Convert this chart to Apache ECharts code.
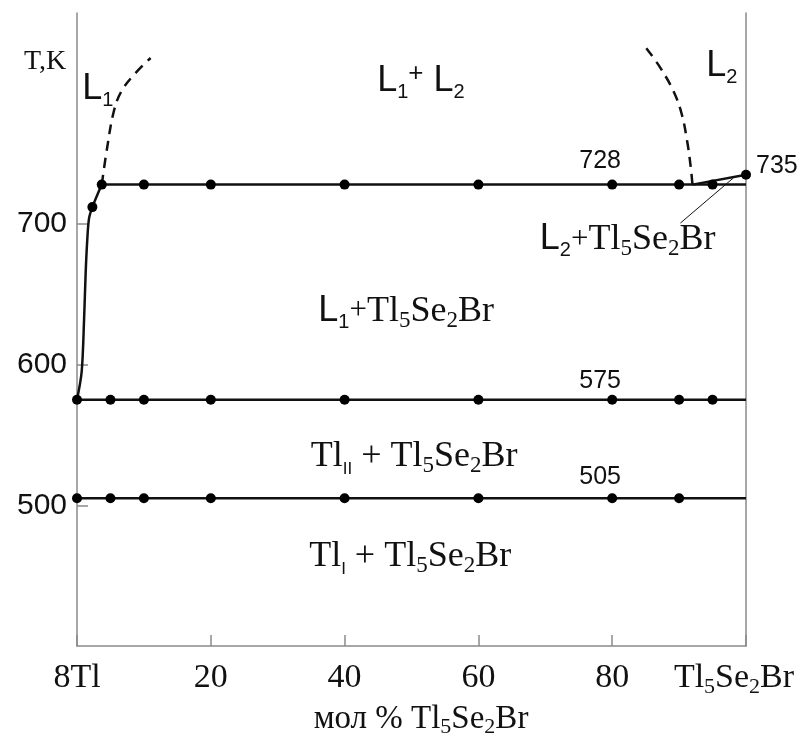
<!DOCTYPE html>
<html><head><meta charset="utf-8">
<script src="https://cdn.jsdelivr.net/npm/echarts@6/dist/echarts.min.js"></script>
<style>html,body{margin:0;padding:0;background:#fff}#c{width:808px;height:740px}</style>
</head><body><div id="c"></div>
<script>
// ---- data ----
const xTicks = [0, 20, 40, 60, 80, 100];
const xTickLabels = ['8Tl', '20', '40', '60', '80', 'Tl5Se2Br'];
const yTicks = [500, 600, 700];
const isothermT = [728, 575, 505];
const isothermStart = [3.7, 0, 0];
const isothermEnd = [100, 100, 100];
const liquidusL1 = [[0,575],[0.7,595],[1.05,631],[1.3,666],[1.55,690],[1.8,704],[2.3,712],[3.7,728]];
const liquidusL1Dashed = [[3.7,728],[4.5,754],[5.5,780],[6.6,794],[8.5,806],[11,818]];
const liquidusL2Dashed = [[85.1,825],[87.2,811],[89.2,794],[90.4,778],[91.2,759],[91.7,742],[92,728]];
const liquidusL2 = [[92,728],[100,735]];
const dots728 = [3.7, 10, 20, 40, 60, 80, 90, 95];
const dots575 = [0, 5, 10, 20, 40, 60, 80, 90, 95];
const dots505 = [0, 5, 10, 20, 40, 60, 80, 90];
const extraDots = [[2.3,712],[100,735]];
const leaderLine = [[90.2,700.7],[98.1,732.7]];
// label texts and anchors (data coordinates)
const labelTexts = [
  '{L|L}{ls|1}',
  '{L|L}{ls|1}{sup|+}{L| L}{ls|2}',
  '{L|L}{ls|2}',
  '{n|728}', '{n|575}', '{n|505}', '{n|735}',
  '{L|L}{ls|2}{p|+}{s|Tl}{ss|5}{s|Se}{ss|2}{s|Br}',
  '{L|L}{ls|1}{p|+}{s|Tl}{ss|5}{s|Se}{ss|2}{s|Br}',
  '{s|Tl}{rs|II}{s| + Tl}{ss|5}{s|Se}{ss|2}{s|Br}',
  '{s|Tl}{rs|I}{s| + Tl}{ss|5}{s|Se}{ss|2}{s|Br}'
];
const labelX = [3.1, 51.4, 96.4, 78.2, 78.2, 78.2, 101.5, 82.3, 49.2, 50.4, 49.8];
const labelT = [795.8, 801.4, 812, 744.6, 588, 520.4, 741, 689, 637.9, 534.7, 463.6];
const labelAlign = ['center','center','center','center','center','center','left','center','center','center','center'];

// ---- styles ----
const INK = '#111111';
const AXIS = '#8a8a8a';
const rich = {
  L: {fontFamily: 'Liberation Sans', fontSize: 36, lineHeight: 42, fill: INK},
  ls: {fontFamily: 'Liberation Sans', fontSize: 20, lineHeight: 20, verticalAlign: 'bottom', fill: INK},
  sup: {fontFamily: 'Liberation Sans', fontSize: 26, lineHeight: 24, verticalAlign: 'top', fill: INK},
  p: {fontFamily: 'Liberation Serif', fontSize: 31, lineHeight: 42, fill: INK},
  s: {fontFamily: 'Liberation Serif', fontSize: 36, lineHeight: 42, fill: INK},
  ss: {fontFamily: 'Liberation Serif', fontSize: 23, lineHeight: 21, verticalAlign: 'bottom', fill: INK},
  rs: {fontFamily: 'Liberation Sans', fontSize: 17, lineHeight: 18, verticalAlign: 'bottom', fill: INK},
  n: {fontFamily: 'Liberation Sans', fontSize: 25, lineHeight: 30, fill: INK}
};

function lineSeries(data, opts) {
  return Object.assign({
    type: 'line', data: data, symbol: 'none', silent: true, animation: false,
    lineStyle: {color: INK, width: 2.5}, z: 3
  }, opts || {});
}

const series = [];
isothermT.forEach((T, i) => series.push(lineSeries([[isothermStart[i], T], [isothermEnd[i], T]])));
series.push(lineSeries(liquidusL1, {smooth: 0.3}));
series.push(lineSeries(liquidusL1Dashed, {smooth: 0.4, lineStyle: {color: INK, width: 2.5, type: [10, 7]}}));
series.push(lineSeries(liquidusL2Dashed, {smooth: 0.4, lineStyle: {color: INK, width: 2.5, type: [10, 7]}}));
series.push(lineSeries(liquidusL2));
series.push(lineSeries(leaderLine, {lineStyle: {color: INK, width: 1}}));

const dotData = []
  .concat(dots728.map(x => [x, isothermT[0]]))
  .concat(dots575.map(x => [x, isothermT[1]]))
  .concat(dots505.map(x => [x, isothermT[2]]))
  .concat(extraDots);
series.push({type: 'scatter', data: dotData, symbol: 'circle', symbolSize: 10,
  itemStyle: {color: '#000', opacity: 1, borderWidth: 0}, silent: true, animation: false, z: 5, clip: false});

const chart = echarts.init(document.getElementById('c'), null, {renderer: 'canvas'});
chart.setOption({
  backgroundColor: '#fff',
  animation: false,
  grid: {left: 77, right: 62, top: 13, bottom: 94, containLabel: false, outerBoundsMode: 'none'},
  xAxis: {
    type: 'value', min: 0, max: 100, interval: 20,
    axisLine: {show: true, lineStyle: {color: AXIS, width: 1.5}},
    axisTick: {show: true, inside: true, length: 11, lineStyle: {color: AXIS, width: 1.5}},
    splitLine: {show: false},
    axisLabel: {
      margin: 12, hideOverlap: false,
      formatter: v => {
        const i = xTicks.indexOf(v);
        if (i < 0) return '';
        const t = xTickLabels[i];
        if (t === 'Tl5Se2Br') return '{x|Tl}{xs|5}{x|Se}{xs|2}{xr|Br}';
        return '{x|' + t + '}';
      },
      rich: {
        x: {fontFamily: 'Liberation Serif', fontSize: 34, lineHeight: 40, color: INK},
        xr: {fontFamily: 'Liberation Serif', fontSize: 34, lineHeight: 40, color: INK, padding: [0, 24, 0, 0]},
        xs: {fontFamily: 'Liberation Serif', fontSize: 22, lineHeight: 20, verticalAlign: 'bottom', color: INK}
      }
    }
  },
  yAxis: [{
    type: 'value', min: 400, max: 850, interval: 100,
    axisLine: {show: true, lineStyle: {color: AXIS, width: 1.5}},
    axisTick: {show: true, inside: true, length: 11, customValues: yTicks, lineStyle: {color: AXIS, width: 1.5}},
    splitLine: {show: false},
    axisLabel: {customValues: yTicks, margin: 10, fontFamily: 'Liberation Sans', fontSize: 30, color: INK}
  }, {
    type: 'value', min: 400, max: 850, position: 'right',
    axisLine: {show: true, lineStyle: {color: AXIS, width: 1.5}},
    axisTick: {show: false}, axisLabel: {show: false}, splitLine: {show: false}
  }],
  series: series
});

// text annotations placed through the axes' own scales
const graphics = [
  {type: 'text', left: 24, top: 48, style: {text: 'T,K', fontFamily: 'Liberation Serif', fontSize: 28, fill: INK}},
  {type: 'text', x: 421, y: 719, style: {
    text: '{a|мол % Tl}{b|5}{a|Se}{b|2}{a|Br}', align: 'center', verticalAlign: 'middle',
    rich: {
      a: {fontFamily: 'Liberation Serif', fontSize: 33, lineHeight: 38, fill: INK},
      b: {fontFamily: 'Liberation Serif', fontSize: 22, lineHeight: 20, verticalAlign: 'bottom', fill: INK}
    }
  }}
];
labelTexts.forEach((t, i) => {
  const p = chart.convertToPixel({gridIndex: 0}, [labelX[i], labelT[i]]);
  graphics.push({type: 'text', x: p[0], y: p[1], z: 10, style: {
    text: t, align: labelAlign[i], verticalAlign: 'middle', fill: INK, rich: rich
  }});
});
chart.setOption({graphic: graphics});
</script>
</body></html>
